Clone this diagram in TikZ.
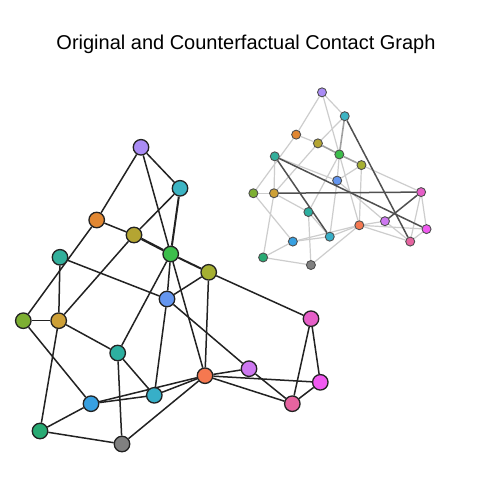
\documentclass[tikz,border=0pt]{standalone}
\usepackage{fontspec}
\setmainfont{Liberation Sans}
\usetikzlibrary{backgrounds}
\definecolor{cpu}{RGB}{170,140,245}
\definecolor{cct}{RGB}{60,180,195}
\definecolor{cor}{RGB}{225,135,50}
\definecolor{col}{RGB}{180,165,50}
\definecolor{cgr}{RGB}{60,190,75}
\definecolor{ctl}{RGB}{50,175,155}
\definecolor{cyr}{RGB}{165,175,50}
\definecolor{cbl}{RGB}{100,150,240}
\definecolor{cyl}{RGB}{125,175,50}
\definecolor{cgo}{RGB}{205,160,55}
\definecolor{cmp}{RGB}{230,95,200}
\definecolor{ctm}{RGB}{45,175,160}
\definecolor{crr}{RGB}{245,120,80}
\definecolor{cvi}{RGB}{205,120,240}
\definecolor{cmb}{RGB}{240,90,240}
\definecolor{ccb}{RGB}{55,175,200}
\definecolor{csb}{RGB}{55,160,225}
\definecolor{chp}{RGB}{230,100,160}
\definecolor{csg}{RGB}{40,170,115}
\definecolor{cgy}{RGB}{128,128,128}
\definecolor{edgedark}{RGB}{34,34,34}
\definecolor{edgelight}{RGB}{205,205,205}
\definecolor{edgemid}{RGB}{160,160,160}
\definecolor{edgecf}{RGB}{80,80,80}
\tikzset{
  mnode/.style={circle, draw=edgedark, line width=1.3pt, minimum size=15.5pt, inner sep=0pt},
  snode/.style={circle, draw=edgedark!80, line width=0.9pt, minimum size=9pt, inner sep=0pt},
  medge/.style={draw=edgedark, line width=1.5pt},
  medgethick/.style={draw=edgedark, line width=2.4pt},
  sedge/.style={draw=edgelight, line width=1.2pt},
  sedgethick/.style={draw=edgemid, line width=1.6pt},
  cfedge/.style={draw=edgecf, line width=1.5pt},
  titlestyle/.style={font=\fontsize{20}{24}\selectfont, anchor=base, inner sep=0pt}
}
\begin{document}
\begin{tikzpicture}[x=1pt,y=-1pt]
\useasboundingbox (0,0) rectangle (480,480);
\node[titlestyle] (title) at (246,49) {Original and Counterfactual Contact Graph};
% nodes
\foreach \n/\x/\y/\c in {pu/141/147.3/cpu, ct/180/188.3/cct, or/96.7/220/cor, ol/134/235/col,
  gr/170.7/254/cgr, tl/60/257.3/ctl, yr/208.7/272.3/cyr, bl/167/299/cbl, yl/23.3/320.7/cyl,
  go/58.7/320.7/cgo, mp/311/318.7/cmp, tm/117.7/353/ctm, rr/205/375.7/crr, vi/249/368.7/cvi,
  mb/320.3/382.3/cmb, cb/154.3/395.3/ccb, sb/91/403.7/csb, hp/292.3/403.7/chp, sg/40/431/csg,
  gy/122/444/cgy}{
  \node[mnode, fill=\c] (m\n) at (\x,\y) {};
  \node[snode, fill=\c] (s\n) at ({239.8+0.583*\x},{6.6+0.582*\y}) {};
}
\begin{pgfonlayer}{background}
\fill[white] (0,0) rectangle (480,480);
% normal edges, both graphs
\foreach \a/\b in {pu/or, pu/ct, pu/gr, ct/ol, or/ol, or/yl, ol/go, tl/bl, tl/go, yl/go,
  gr/bl, gr/tm, gr/rr, yr/bl, yr/rr, yr/mp, bl/cb, bl/vi, yl/sb, go/tm, go/sg, tm/cb, tm/gy,
  sb/cb, sb/rr, cb/rr, sb/sg, sg/gy, gy/rr, rr/vi, rr/mb, rr/hp, vi/hp, mp/mb, mp/hp, mb/hp}{
  \draw[medge] (m\a) -- (m\b);
  \draw[sedge] (s\a) -- (s\b);
}
% heavier edges
\draw[medgethick] (mol) -- (mgr);
\draw[medge, line width=2pt] (mct) -- (mgr);
\draw[medge, line width=2pt] (mgr) -- (myr);
\draw[sedgethick] (sol) -- (sgr);
\draw[sedgethick] (sct) -- (sgr);
\draw[sedgethick] (sgr) -- (syr);
% counterfactual edges
\draw[cfedge] (stl) -- (smb);
\draw[cfedge] (stl) -- (scb);
\draw[cfedge] (sgo) -- (smp);
\draw[cfedge] (sct) -- (shp);
\draw[cfedge] (smp) -- (svi);
\end{pgfonlayer}
\end{tikzpicture}
\end{document}
